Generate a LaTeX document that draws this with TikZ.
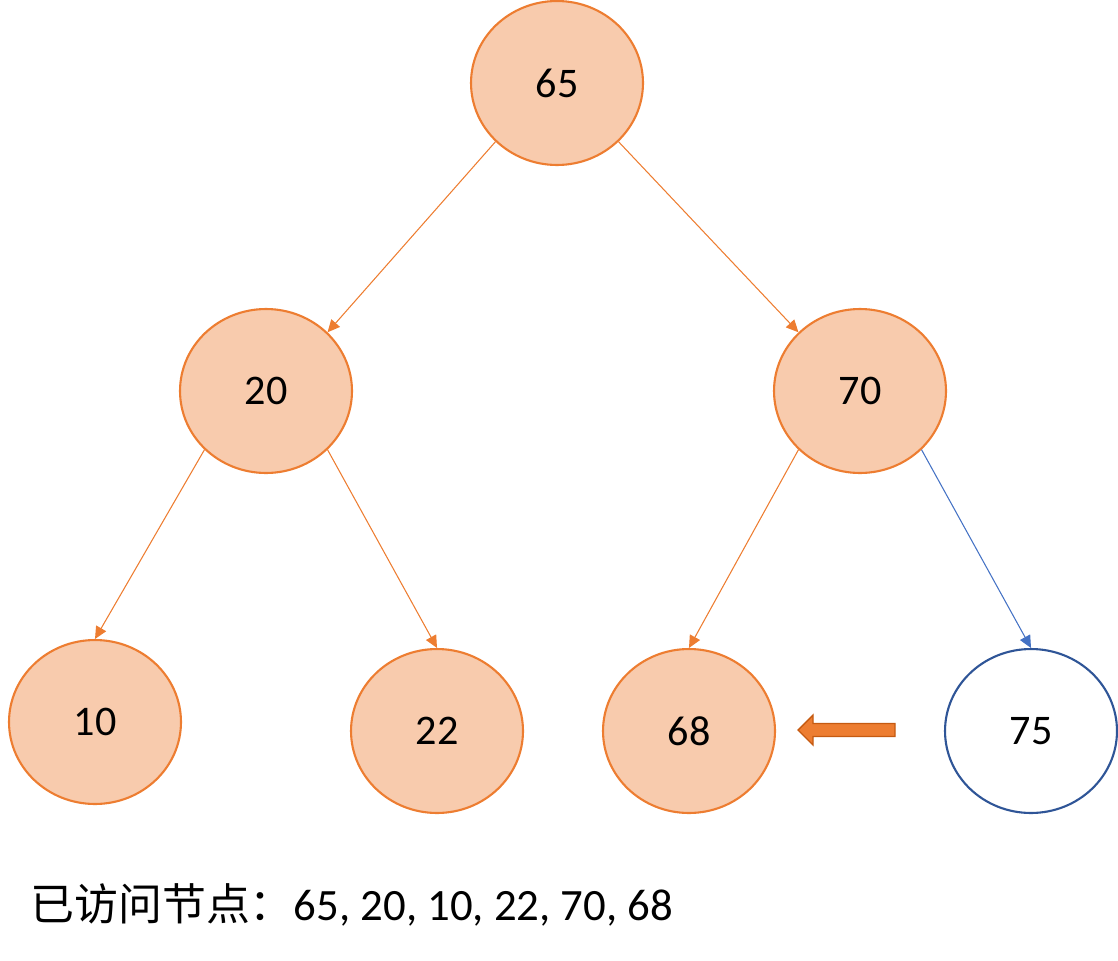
\documentclass[tikz,border=0pt]{standalone}
\usepackage{fontspec}
\setmainfont{Carlito}
\newfontfamily\cjk{Noto Sans CJK SC}
\usetikzlibrary{shapes.geometric,arrows.meta}

\definecolor{nodefill}{HTML}{F8CBAD}
\definecolor{nodeline}{HTML}{ED7D31}
\definecolor{newline}{HTML}{2F5597}
\definecolor{newedge}{HTML}{4472C4}
\definecolor{markline}{HTML}{C55A11}

\tikzset{
  visited/.style={ellipse, draw=nodeline, fill=nodefill, line width=1.2pt,
    minimum width=3.44cm, minimum height=3.28cm, inner sep=0pt,
    font=\fontsize{24}{28}\selectfont},
  current/.style={visited, draw=newline, fill=white},
  edge/.style={draw=nodeline, line width=0.6pt,
    -{Triangle[length=7pt,width=6.5pt]}},
  newedge/.style={edge, draw=newedge}
}

\begin{document}
\begin{tikzpicture}[x=0.02cm, y=-0.02cm]
\useasboundingbox (0,0) rectangle (1118,960);

% Tree nodes
\node[visited] (n65) at (557,83) {65};
\node[visited] (n20) at (266,391) {20};
\node[visited] (n70) at (860,391) {70};
\node[visited] (n10) at (95,722) {10};
\node[visited] (n22) at (437,731) {22};
\node[visited] (n68) at (689,731) {68};
\node[current] (n75) at (1031,731) {75};

% Edges
\draw[edge] (n65.south west) -- (n20.north east);
\draw[edge] (n65.south east) -- (n70.north west);
\draw[edge] (n20.south west) -- (n10.north);
\draw[edge] (n20.south east) -- (n22.north);
\draw[edge] (n70.south west) -- (n68.north);
\draw[newedge] (n70.south east) -- (n75.north);

% Block arrow pointing back to 68
\filldraw[fill=nodeline, draw=markline, line width=0.8pt]
  (798,730) -- (813,715) -- (813,723.5) -- (895,723.5) -- (895,736.5)
  -- (813,736.5) -- (813,745) -- cycle;

% Visited list
\node[anchor=base west, inner sep=0pt, font=\fontsize{25.5}{28}\selectfont] (visits) at (30,920)
  {{\cjk\fontsize{25}{28}\selectfont 已访问节点：}65, 20, 10, 22, 70, 68};
\end{tikzpicture}
\end{document}
